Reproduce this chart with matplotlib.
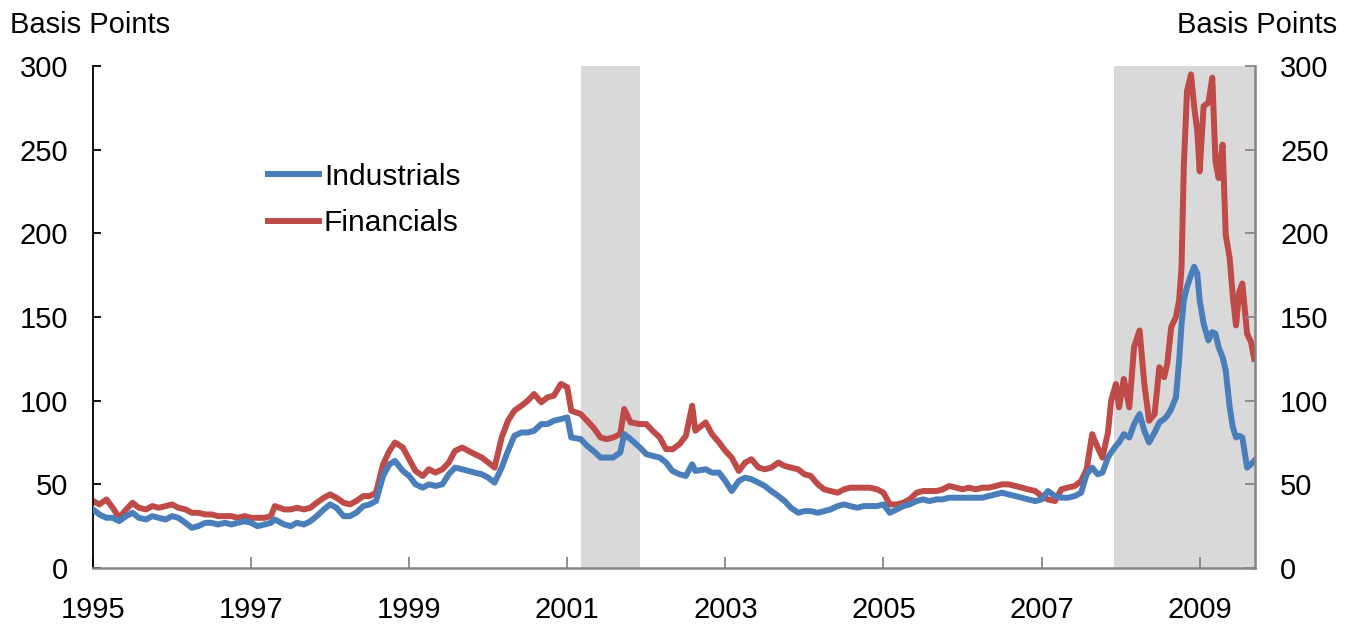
import matplotlib
matplotlib.use("Agg")
import matplotlib.pyplot as plt

plt.rcParams["font.family"] = ["Liberation Sans", "DejaVu Sans"]

# decimal-year dates and spreads (basis points)
dates = [
    1995.00, 1995.08, 1995.17, 1995.25, 1995.33, 1995.42, 1995.50, 1995.58, 1995.67, 1995.75,
    1995.83, 1995.92, 1996.00, 1996.08, 1996.17, 1996.25, 1996.33, 1996.42, 1996.50, 1996.58,
    1996.67, 1996.75, 1996.83, 1996.92, 1997.00, 1997.08, 1997.17, 1997.25, 1997.30, 1997.42,
    1997.50, 1997.58, 1997.67, 1997.75, 1997.83, 1997.92, 1998.00, 1998.08, 1998.17, 1998.25,
    1998.33, 1998.42, 1998.50, 1998.58, 1998.67, 1998.75, 1998.82, 1998.92, 1999.00, 1999.08,
    1999.17, 1999.25, 1999.33, 1999.42, 1999.50, 1999.58, 1999.67, 1999.75, 1999.83, 1999.92,
    2000.00, 2000.08, 2000.17, 2000.25, 2000.33, 2000.42, 2000.50, 2000.58, 2000.67, 2000.75,
    2000.83, 2000.92, 2001.00, 2001.05, 2001.17, 2001.25, 2001.33, 2001.42, 2001.50, 2001.58,
    2001.67, 2001.72, 2001.80, 2001.92, 2002.00, 2002.08, 2002.17, 2002.25, 2002.33, 2002.42,
    2002.50, 2002.58, 2002.62, 2002.75, 2002.83, 2002.92, 2003.00, 2003.08, 2003.17, 2003.25,
    2003.33, 2003.42, 2003.50, 2003.58, 2003.67, 2003.75, 2003.83, 2003.92, 2004.00, 2004.08,
    2004.17, 2004.25, 2004.33, 2004.42, 2004.50, 2004.58, 2004.67, 2004.75, 2004.83, 2004.92,
    2005.00, 2005.08, 2005.17, 2005.25, 2005.33, 2005.42, 2005.50, 2005.58, 2005.67, 2005.75,
    2005.83, 2005.92, 2006.00, 2006.08, 2006.17, 2006.25, 2006.33, 2006.42, 2006.50, 2006.58,
    2006.67, 2006.75, 2006.83, 2006.92, 2007.00, 2007.08, 2007.17, 2007.25, 2007.33, 2007.42,
    2007.50, 2007.57, 2007.64, 2007.71, 2007.77, 2007.84, 2007.88, 2007.94, 2007.98, 2008.04,
    2008.11, 2008.17, 2008.24, 2008.30, 2008.36, 2008.43, 2008.49, 2008.55, 2008.59, 2008.64,
    2008.70, 2008.74, 2008.77, 2008.80, 2008.84, 2008.89, 2008.93, 2008.97, 2009.00, 2009.05,
    2009.11, 2009.16, 2009.20, 2009.24, 2009.29, 2009.33, 2009.38, 2009.42, 2009.46, 2009.50,
    2009.54, 2009.60, 2009.65, 2009.69,
]

industrials = [
    35, 32, 30, 30, 28, 31, 33, 30, 29, 31,
    30, 29, 31, 30, 27, 24, 25, 27, 27, 26,
    27, 26, 27, 28, 27, 25, 26, 27, 29, 26,
    25, 27, 26, 28, 31, 35, 38, 36, 31, 31,
    33, 37, 38, 40, 55, 62, 64, 58, 55, 50,
    48, 50, 49, 50, 56, 60, 59, 58, 57, 56,
    54, 51, 60, 70, 79, 81, 81, 82, 86, 86,
    88, 89, 90, 78, 77, 73, 70, 66, 66, 66,
    69, 80, 77, 72, 68, 67, 66, 63, 58, 56,
    55, 62, 58, 59, 57, 57, 52, 46, 52, 54,
    53, 51, 49, 46, 43, 40, 36, 33, 34, 34,
    33, 34, 35, 37, 38, 37, 36, 37, 37, 37,
    38, 33, 35, 37, 38, 40, 41, 40, 41, 41,
    42, 42, 42, 42, 42, 42, 43, 44, 45, 44,
    43, 42, 41, 40, 41, 46, 43, 42, 42, 43,
    45, 56, 60, 56, 57, 66, 69, 73, 75, 80,
    78, 86, 92, 82, 75, 81, 87, 89, 91, 95,
    102, 124, 145, 160, 168, 175, 180, 176, 160, 146,
    136, 141, 140, 132, 126, 118, 96, 84, 78, 79,
    78, 60, 62, 64,
]

financials = [
    40, 38, 41, 36, 30, 35, 39, 36, 35, 37,
    36, 37, 38, 36, 35, 33, 33, 32, 32, 31,
    31, 31, 30, 31, 30, 30, 30, 31, 37, 35,
    35, 36, 35, 36, 39, 42, 44, 42, 39, 38,
    40, 43, 43, 45, 62, 70, 75, 72, 65, 58,
    55, 59, 57, 59, 63, 70, 72, 70, 68, 66,
    63, 60, 78, 88, 94, 97, 100, 104, 99, 102,
    103, 110, 108, 94, 92, 88, 84, 78, 77, 78,
    80, 95, 87, 86, 86, 82, 78, 71, 71, 74,
    79, 97, 82, 87, 80, 75, 70, 66, 58, 63,
    65, 60, 59, 60, 63, 61, 60, 59, 56, 55,
    50, 47, 46, 45, 47, 48, 48, 48, 48, 47,
    45, 38, 38, 39, 41, 45, 46, 46, 46, 47,
    49, 48, 47, 48, 47, 48, 48, 49, 50, 50,
    49, 48, 47, 46, 43, 41, 40, 47, 48, 49,
    52, 59, 80, 72, 66, 81, 100, 110, 96, 113,
    96, 132, 142, 110, 88, 92, 120, 114, 122, 144,
    150, 160, 179, 241, 285, 295, 276, 261, 237, 276,
    278, 293, 243, 233, 253, 199, 185, 162, 145, 165,
    170, 140, 135, 125,
]

recessions = [(2001.17, 2001.92), (2007.92, 2009.70)]
year_ticks = [1995, 1997, 1999, 2001, 2003, 2005, 2007, 2009]
bp_ticks = [0, 50, 100, 150, 200, 250, 300]

BLUE = "#4A7EBB"
RED = "#BE4B48"
GREY = "#868686"
FS = 21

fig = plt.figure(figsize=(13.53, 6.27), dpi=100)
ax = fig.add_axes([93 / 1353, 59 / 627, 1162 / 1353, 502 / 627])

for start, end in recessions:
    ax.axvspan(start, end, color="#D9D9D9", lw=0, zorder=0)

ax.plot(dates, industrials, color=BLUE, lw=4.3, solid_joinstyle="round",
        label="Industrials", zorder=3)
ax.plot(dates, financials, color=RED, lw=4.3, solid_joinstyle="round",
        label="Financials", zorder=2)

ax.set_xlim(1995.0, 2009.70)
ax.set_ylim(0, 300)
ax.set_xticks(year_ticks)
ax.set_yticks(bp_ticks)

ax.spines["top"].set_visible(False)
ax.spines["right"].set_visible(False)
ax.spines["left"].set_color("black")
ax.spines["left"].set_linewidth(1.3)
ax.spines["bottom"].set_color(GREY)
ax.spines["bottom"].set_linewidth(1.8)

ax.tick_params(axis="y", direction="in", length=6, width=1.3, color="black",
               labelsize=FS, pad=18)
ax.tick_params(axis="x", direction="in", length=8, width=1.3, color=GREY,
               labelsize=FS, pad=20.5)

ax2 = ax.twinx()
ax2.set_ylim(0, 300)
ax2.set_yticks(bp_ticks)
for side in ["top", "left", "bottom"]:
    ax2.spines[side].set_visible(False)
ax2.spines["right"].set_color(GREY)
ax2.spines["right"].set_linewidth(1.8)
ax2.tick_params(axis="y", direction="in", length=7, width=1.3, color=GREY,
                labelsize=FS, pad=18)

fig.text(10 / 1353, 1 - 33 / 627, "Basis Points", fontsize=FS, ha="left", va="baseline")
fig.text(1337 / 1353, 1 - 33 / 627, "Basis Points", fontsize=FS, ha="right", va="baseline")

leg = ax.legend(loc="upper left", bbox_to_anchor=(0.1506, 0.807), frameon=False,
                fontsize=21.5, handlelength=1.7, handletextpad=0.17,
                labelspacing=0.62, borderpad=0, borderaxespad=0)

fig.savefig("out.png", dpi=100)
